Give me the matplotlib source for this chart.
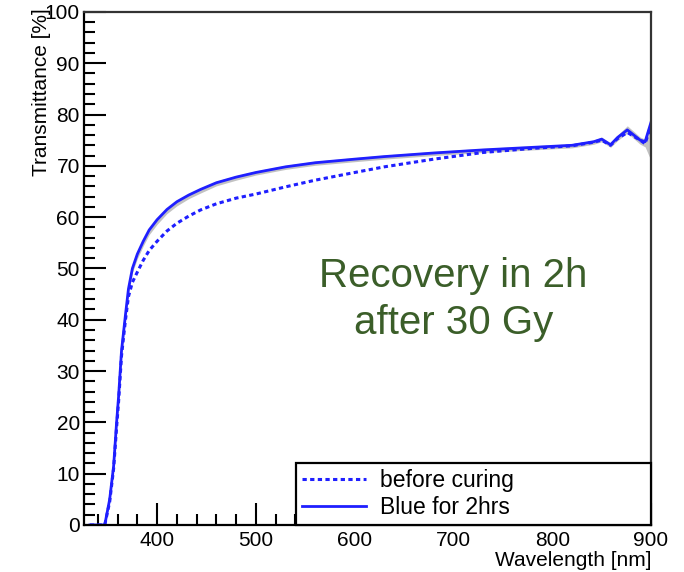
import matplotlib.pyplot as plt
from matplotlib.ticker import MultipleLocator
import numpy as np

plt.rcParams['font.family'] = ['Liberation Sans', 'DejaVu Sans']

# Data
wavelength = [332, 347, 352, 356, 359, 361, 364, 368, 371, 375, 380, 386, 392,
              400, 410, 420, 432, 444, 460, 480, 500, 530, 560, 600, 630, 680,
              730, 780, 820, 842, 850, 859, 866, 876, 889, 894, 900]

before_curing = [0, 0, 4.5, 11, 19, 24, 33, 40, 44.5, 47.3, 49.3, 51.6, 53.5,
                 55.3, 57.3, 58.8, 60.2, 61.4, 62.6, 63.7, 64.5, 65.9, 67.2, 68.7, 69.8, 71.3,
                 72.6, 73.4, 73.9, 74.6, 75.0, 74.0, 75.3, 76.5, 75.0, 74.3, 78.0]

blue_2hrs = [0, 0, 5, 11.5, 20, 25, 34, 41, 46, 50, 52.8, 55.3, 57.5,
             59.5, 61.5, 63.0, 64.3, 65.4, 66.7, 67.8, 68.7, 69.8, 70.6, 71.3, 71.8, 72.5,
             73.1, 73.6, 74.0, 74.7, 75.2, 74.1, 75.5, 77.0, 75.0, 74.7, 78.5]

# spread of the grey band around the 2hrs curve
band_lo = [0, 0, 0.5, 0.8, 0.8, 0.8, 0.8, 0.8, 0.8, 0.8, 0.9, 0.9, 0.9,
           0.9, 0.8, 0.8, 0.7, 0.7, 0.6, 0.6, 0.5, 0.5, 0.5, 0.5, 0.5, 0.5,
           0.5, 0.5, 0.5, 0.5, 0.5, 0.5, 0.6, 0.6, 0.8, 1.0, 7.5]
band_hi = [0, 0, 0.3, 0.4, 0.4, 0.4, 0.4, 0.4, 0.4, 0.4, 0.3, 0.3, 0.3,
           0.3, 0.3, 0.3, 0.3, 0.3, 0.3, 0.3, 0.3, 0.3, 0.3, 0.3, 0.3, 0.3,
           0.3, 0.3, 0.3, 0.3, 0.4, 0.4, 0.5, 0.8, 0.6, 0.5, 0.3]

note = "Recovery in 2h\nafter 30 Gy"

fig = plt.figure(figsize=(6.84, 5.72), dpi=100)
ax = fig.add_axes([0.1228, 0.0822, 0.829, 0.897])

wl = np.array(wavelength)
b2 = np.array(blue_2hrs)
ax.fill_between(wl, b2 - np.array(band_lo), b2 + np.array(band_hi),
                color='#9a9a9a', alpha=0.6, linewidth=0)
ax.plot(wl, before_curing, color='#1f1fff', lw=2.2, linestyle=(0, (1.4, 1.1)),
        label='before curing')
ax.plot(wl, blue_2hrs, color='#1f1fff', lw=2.0, label='Blue for 2hrs')

ax.set_xlim(326, 900)
ax.set_ylim(0, 100)

ax.xaxis.set_major_locator(MultipleLocator(100))
ax.xaxis.set_minor_locator(MultipleLocator(20))
ax.yaxis.set_major_locator(MultipleLocator(10))
ax.yaxis.set_minor_locator(MultipleLocator(2))
ax.tick_params(which='both', direction='in', top=False, right=False,
               labelsize=15, width=1.5, colors='black')
ax.tick_params(which='major', length=16)
ax.tick_params(which='minor', length=8)
ax.tick_params(axis='x', pad=4)
ax.tick_params(axis='y', pad=3)
for s in ax.spines.values():
    s.set_linewidth(1.6)
ax.spines['top'].set_color('#333333')
ax.spines['right'].set_color('#333333')

fig.text(0.061, 0.985, 'Transmittance [%]', rotation=90, ha='center', va='top',
         fontsize=15)
fig.text(0.953, 0.036, 'Wavelength [nm]', ha='right', va='top', fontsize=15)

# annotation placed in axes fraction
ax.text(0.651, 0.44, note, ha='center', va='center', fontsize=29,
        color='#3b5e29', linespacing=1.3, transform=ax.transAxes)

leg = ax.legend(loc='lower left', bbox_to_anchor=(0.374, 0, 0.626, 0.123),
                mode='expand', borderaxespad=0, fancybox=False, frameon=True,
                edgecolor='black', fontsize=16.5, handlelength=2.8,
                handletextpad=0.6, labelspacing=0.2, borderpad=0.25)
leg.get_frame().set_linewidth(1.6)
leg.get_frame().set_alpha(1)

fig.savefig('out.png', dpi=100)
